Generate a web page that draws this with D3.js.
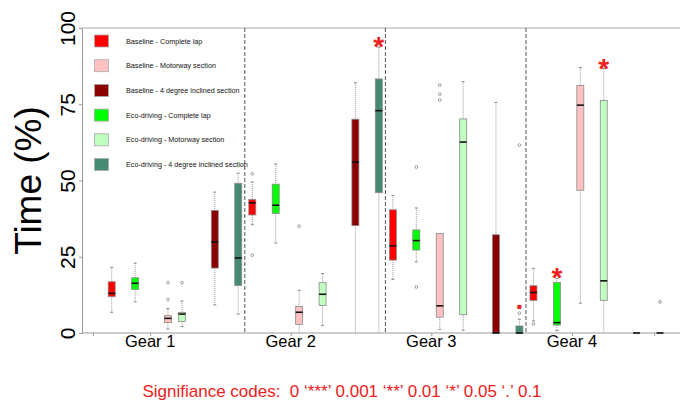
<!DOCTYPE html>
<html>
<head>
<meta charset="utf-8">
<script src="https://cdn.jsdelivr.net/npm/d3@7"></script>
<style>
    body { margin: 0; background: #fff; }
    text { font-family: "Liberation Sans", Arial, sans-serif; }
</style>
</head>
<body>
<svg id="chart" width="680" height="405"></svg>
<script>
/** ------------- DATA -------------- */

const gears = ["Gear 1", "Gear 2", "Gear 3", "Gear 4"];

const seriesNames = [
    "Baseline - Complete lap",
    "Baseline - Motorway section",
    "Baseline - 4 degree inclined section",
    "Eco-driving - Complete lap",
    "Eco-driving - Motorway section",
    "Eco-driving - 4 degree inclined section",
];
const seriesColors = ["#ff0000", "#ffc1c1", "#8b0000", "#00ff00", "#c1ffc1", "#458b74"];

// five-number summaries per gear: [lower whisker, q1, median, q3, upper whisker]
const baseComplete = [[6.8, 11.9, 13.0, 16.8, 21.5], [35.5, 38.7, 42.7, 43.8, 49.5], [17.6, 23.9, 28.6, 40.4, 45.1], [4.0, 10.7, 13.3, 15.5, 21.2]];
const baseMotorway = [[1.3, 3.4, 4.8, 5.7, 8.0], [0, 2.8, 6.8, 8.7, 14.0], [1.2, 5.2, 8.9, 32.6, 32.6], [9.8, 46.8, 74.7, 81.2, 87.0]];
const baseInclined = [[9.2, 21.3, 29.9, 40.2, 46.2], [0, 35.2, 56.0, 70.1, 82.0], [0, 0, 0, 32.2, 75.6], [0, 0, 0, 0, 0]];
const ecoComplete = [[10.2, 14.3, 16.3, 18.1, 22.9], [29.5, 39.2, 41.9, 48.8, 55.4], [23.3, 27.2, 30.3, 33.8, 41.0], [0.8, 2.6, 3.4, 16.6, 17.9]];
const ecoMotorway = [[2.1, 3.8, 6.2, 6.7, 10.5], [2.5, 9.0, 12.7, 16.5, 19.5], [0.9, 6.0, 62.6, 70.2, 82.4], [0, 10.7, 17.1, 76.2, 86.7]];
const ecoInclined = [[6.2, 15.6, 24.6, 49.1, 52.4], [0, 46.0, 72.9, 83.3, 93.7], [0, 0, 0, 2.3, 4.5], [0, 0, 0, 0, 0]];

// outliers per gear
const baseCompleteOut = [[], [52.2, 25.5], [], [3.0]];
const baseMotorwayOut = [[16.5, 11.0], [35.0], [81.3, 78.3, 76.4], []];
const baseInclinedOut = [[], [], [], []];
const ecoCompleteOut = [[], [], [54.4, 15.1], []];
const ecoMotorwayOut = [[16.5], [], [], []];
const ecoInclinedOut = [[], [], [61.6, 6.5], [10.2]];

// significance marks: gear index, series index, code
const sigGear = [1, 2, 3, 3];
const sigSeries = [5, 5, 3, 4];
const sigCode = ["*", ".", "*", "*"];

const yTicks = [0, 25, 50, 75, 100];
const sigNote = "Signifiance codes:  0 \u2018***\u2019 0.001 \u2018**\u2019 0.01 \u2018*\u2019 0.05 \u2018.\u2019 0.1";

const stats = [baseComplete, baseMotorway, baseInclined, ecoComplete, ecoMotorway, ecoInclined];
const outs = [baseCompleteOut, baseMotorwayOut, baseInclinedOut, ecoCompleteOut, ecoMotorwayOut, ecoInclinedOut];

/** ------------- LAYOUT -------------- */

// order of boxes inside each gear, and their slot offset
const boxOrder = [0, 3, 1, 4, 2, 5];
const slotOffset = [0, 1, 2, 3, 4.4, 5.4];
const gearStep = 6;
const boxW = 7;

const svg = d3.select("#chart");
const x = d3.scaleLinear().domain([0, 23.4]).range([111.7, 660]);
const y = d3.scaleLinear().domain([0, 100]).range([333, 28]);

function boxPos(g, s) {
    let p = g * gearStep + slotOffset[boxOrder.indexOf(s)];
    if (g === 0 && s === 1) p += 0.4; // gear 1 motorway baseline sits a bit right
    return x(p);
}

const boxes = [];
gears.forEach((gname, g) => {
    stats.forEach((ser, s) => {
        const v = ser[g];
        boxes.push({ g, s, lo: v[0], q1: v[1], med: v[2], q3: v[3], hi: v[4], out: outs[s][g], cx: boxPos(g, s) });
    });
});

/** frame and axes */
svg.append("line")
    .attr("x1", 82).attr("x2", 680).attr("y1", y(100)).attr("y2", y(100))
    .attr("stroke", "#aaa").attr("stroke-width", 1);

const yAxis = svg.append("g")
    .attr("transform", "translate(82,0)")
    .call(d3.axisLeft(y).tickValues(yTicks).tickSize(3).tickSizeOuter(0));
yAxis.select(".domain").attr("stroke", "#999");
yAxis.selectAll(".tick line").attr("stroke", "#999");
yAxis.selectAll(".tick text")
    .attr("x", null).attr("dy", null)
    .attr("transform", "translate(-7,0) rotate(-90)")
    .attr("text-anchor", "middle")
    .attr("font-size", 21)
    .attr("fill", "#000");

const xAxis = svg.append("g")
    .attr("transform", `translate(0,${y(0)})`)
    .call(d3.axisBottom(x).tickValues([-0.8, 1.64, 7.64, 13.64, 19.64, 23.15]).tickSize(3).tickSizeOuter(0).tickFormat(""));
xAxis.select(".domain").attr("d", `M82,0H680`).attr("stroke", "#999");
xAxis.selectAll(".tick line").attr("stroke", "#999");

svg.append("g")
    .selectAll("text")
    .data(gears)
    .join("text")
    .attr("x", (d, i) => x(1.64 + i * gearStep))
    .attr("y", 347)
    .attr("text-anchor", "middle")
    .attr("font-size", 16.5)
    .text((d) => d);

svg.append("text")
    .attr("transform", `translate(41,${(y(0) + y(100)) / 2}) rotate(-90)`)
    .attr("text-anchor", "middle")
    .attr("font-size", 37)
    .text("Time (%)");

/** gear separators */
svg.append("g")
    .selectAll("line")
    .data([1, 2, 3])
    .join("line")
    .attr("x1", (d) => x(d * gearStep - 0.32))
    .attr("x2", (d) => x(d * gearStep - 0.32))
    .attr("y1", y(100)).attr("y2", y(0))
    .attr("stroke", "#555")
    .attr("stroke-dasharray", "4,2");

/** boxes */
const bg = svg.append("g").selectAll("g").data(boxes).join("g");

// whiskers
bg.append("line")
    .attr("x1", (d) => d.cx).attr("x2", (d) => d.cx)
    .attr("y1", (d) => y(d.hi)).attr("y2", (d) => y(d.q3))
    .attr("stroke", "#999").attr("stroke-dasharray", "1,1");
bg.append("line")
    .attr("x1", (d) => d.cx).attr("x2", (d) => d.cx)
    .attr("y1", (d) => y(d.q1)).attr("y2", (d) => y(d.lo))
    .attr("stroke", "#999").attr("stroke-dasharray", "1,1");
bg.filter((d) => d.hi > d.q3).append("line")
    .attr("x1", (d) => d.cx - 1.5).attr("x2", (d) => d.cx + 1.5)
    .attr("y1", (d) => y(d.hi)).attr("y2", (d) => y(d.hi))
    .attr("stroke", "#888");
bg.filter((d) => d.lo < d.q1 && d.lo > 0).append("line")
    .attr("x1", (d) => d.cx - 1.5).attr("x2", (d) => d.cx + 1.5)
    .attr("y1", (d) => y(d.lo)).attr("y2", (d) => y(d.lo))
    .attr("stroke", "#888");

bg.append("rect")
    .attr("x", (d) => d.cx - boxW / 2)
    .attr("width", boxW)
    .attr("y", (d) => y(d.q3))
    .attr("height", (d) => y(d.q1) - y(d.q3))
    .attr("fill", (d) => seriesColors[d.s])
    .attr("stroke", "#8a8a8a")
    .attr("stroke-width", 0.8);

bg.append("line")
    .attr("x1", (d) => d.cx - boxW / 2).attr("x2", (d) => d.cx + boxW / 2)
    .attr("y1", (d) => y(d.med)).attr("y2", (d) => y(d.med))
    .attr("stroke", "#111").attr("stroke-width", 1.6);

bg.selectAll("circle")
    .data((d) => d.out.map((v) => ({ cx: d.cx, v })))
    .join("circle")
    .attr("cx", (d) => d.cx)
    .attr("cy", (d) => y(d.v))
    .attr("r", 1.4)
    .attr("fill", "none")
    .attr("stroke", "#888")
    .attr("stroke-width", 0.8);

/** significance marks */
svg.append("g")
    .selectAll("text")
    .data(sigCode.map((c, i) => ({ c, g: sigGear[i], s: sigSeries[i] })))
    .join("text")
    .attr("x", (d) => boxPos(d.g, d.s))
    .attr("y", (d) => y(stats[d.s][d.g][4]) + (d.c === "*" ? 9 : -10))
    .attr("text-anchor", "middle")
    .attr("font-size", 28)
    .attr("font-weight", "bold")
    .attr("fill", "#ee2020")
    .text((d) => d.c);

/** legend */
const leg = svg.append("g")
    .selectAll("g")
    .data(seriesNames)
    .join("g")
    .attr("transform", (d, i) => `translate(94.5,${35 + i * 24.7})`);
leg.append("rect")
    .attr("width", 14).attr("height", 12)
    .attr("fill", (d, i) => seriesColors[i])
    .attr("stroke", "#aaa").attr("stroke-width", 0.8);
leg.append("text")
    .attr("x", 31.5).attr("y", 6)
    .attr("dy", "0.35em")
    .attr("font-size", 7.2)
    .attr("fill", "#111")
    .text((d) => d);

/** footnote */
svg.append("text")
    .attr("x", 342).attr("y", 396.5)
    .attr("text-anchor", "middle")
    .attr("font-size", 17)
    .attr("fill", "#ee2020")
    .style("white-space", "pre")
    .text(sigNote);
</script>
</body>
</html>
